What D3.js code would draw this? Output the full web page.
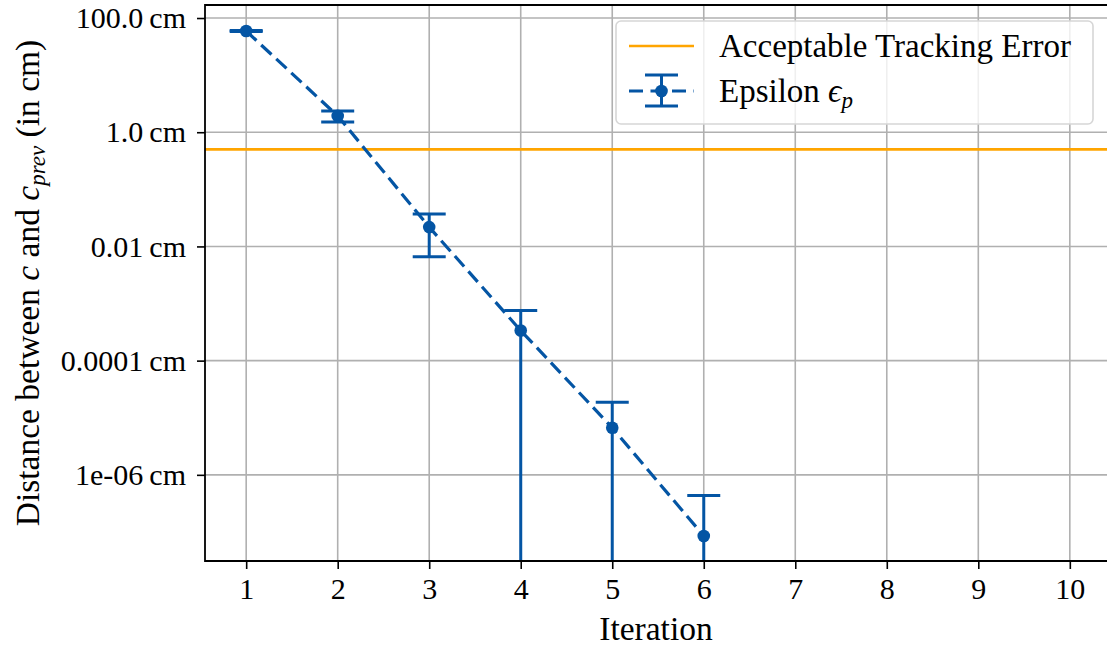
<!DOCTYPE html>
<html>
<head>
<meta charset="utf-8">
<script src="https://cdn.jsdelivr.net/npm/d3@7"></script>
<style>
  html, body { margin: 0; padding: 0; background: #fff; }
  svg { display: block; }
</style>
</head>
<body>
<svg id="chart" width="1107" height="651"></svg>
<script>
// data
const iterations = [1, 2, 3, 4, 5, 6];
const epsilon = [59.2, 1.93, 0.0218, 3.36e-4, 6.68e-6, 8.51e-8];
const epsilonErr = [1.0, 0.42, 0.0152, 4.18e-4, 1.19e-5, 3.49e-7];
const trackingThreshold = 0.5;

const xTicks = [1, 2, 3, 4, 5, 6, 7, 8, 9, 10];
const yTicks = [100, 1, 0.01, 1e-4, 1e-6];
const yTickLabels = ["100.0", "1.0", "0.01", "0.0001", "1e-06"];

const BLUE = "#0455a4";
const ORANGE = "#ffa500";
const GRID = "#b0b0b0";
const SERIF = '"Liberation Serif", "Times New Roman", serif';
const TICK_SIZE = 30;
const LABEL_SIZE = 33.5;
const LEGEND_SIZE = 33;

const plot = { left: 205, top: 5, right: 1111, bottom: 561 };

const svg = d3.select("#chart");

const x = d3.scaleLinear().domain([0.55, 10.45]).range([plot.left, plot.right]);
const y = d3.scaleLog()
    .domain([Math.pow(10, -7.509), Math.pow(10, 2.228)])
    .range([plot.bottom, plot.top]);

svg.append("defs").append("clipPath")
    .attr("id", "plot-clip")
    .append("rect")
    .attr("x", plot.left)
    .attr("y", plot.top)
    .attr("width", plot.right - plot.left)
    .attr("height", plot.bottom - plot.top);

// grid
const grid = svg.append("g").attr("class", "grid");
grid.selectAll(".vgrid")
    .data(xTicks)
    .enter().append("line")
    .attr("x1", d => x(d)).attr("x2", d => x(d))
    .attr("y1", plot.top).attr("y2", plot.bottom)
    .attr("stroke", GRID).attr("stroke-width", 1.6);
grid.selectAll(".hgrid")
    .data(yTicks)
    .enter().append("line")
    .attr("x1", plot.left).attr("x2", plot.right)
    .attr("y1", d => y(d)).attr("y2", d => y(d))
    .attr("stroke", GRID).attr("stroke-width", 1.6);

const marks = svg.append("g").attr("clip-path", "url(#plot-clip)");

// acceptable tracking error (horizontal line across the axes)
marks.append("line")
    .attr("x1", plot.left).attr("x2", plot.right)
    .attr("y1", y(trackingThreshold)).attr("y2", y(trackingThreshold))
    .attr("stroke", ORANGE).attr("stroke-width", 2.6);

const points = iterations.map((it, i) => ({ it, v: epsilon[i], err: epsilonErr[i] }));
const CAP = 16.5;

// error bars; lower end below zero runs off the bottom of a log axis
const bars = marks.selectAll(".errbar")
    .data(points)
    .enter().append("g")
    .attr("class", "errbar")
    .attr("stroke", BLUE)
    .attr("stroke-width", 3);

bars.append("line")
    .attr("x1", d => x(d.it)).attr("x2", d => x(d.it))
    .attr("y1", d => y(d.v + d.err))
    .attr("y2", d => d.v - d.err > 0 ? y(d.v - d.err) : plot.bottom + 10);

bars.append("line")
    .attr("x1", d => x(d.it) - CAP).attr("x2", d => x(d.it) + CAP)
    .attr("y1", d => y(d.v + d.err)).attr("y2", d => y(d.v + d.err));

bars.filter(d => d.v - d.err > 0).append("line")
    .attr("x1", d => x(d.it) - CAP).attr("x2", d => x(d.it) + CAP)
    .attr("y1", d => y(d.v - d.err)).attr("y2", d => y(d.v - d.err));

// dashed line through the points
marks.append("path")
    .datum(points)
    .attr("fill", "none")
    .attr("stroke", BLUE)
    .attr("stroke-width", 3.2)
    .attr("stroke-dasharray", "14,6.5")
    .attr("d", d3.line().x(d => x(d.it)).y(d => y(d.v)));

marks.selectAll(".pt")
    .data(points)
    .enter().append("circle")
    .attr("class", "pt")
    .attr("cx", d => x(d.it))
    .attr("cy", d => y(d.v))
    .attr("r", 6.3)
    .attr("fill", BLUE);

// axes
const xAxis = svg.append("g")
    .attr("transform", `translate(0,${plot.bottom})`)
    .call(d3.axisBottom(x).tickValues(xTicks).tickSize(8).tickPadding(9));
const yAxis = svg.append("g")
    .attr("transform", `translate(${plot.left},0)`)
    .call(d3.axisLeft(y).tickValues(yTicks).tickSize(8).tickPadding(11)
        .tickFormat((d, i) => yTickLabels[i] + "\u2009cm"));

[xAxis, yAxis].forEach(ax => {
    ax.select(".domain").remove();
    ax.selectAll(".tick line").attr("stroke", "#000").attr("stroke-width", 1.6);
    ax.selectAll(".tick text")
        .style("font-family", SERIF)
        .style("font-size", TICK_SIZE + "px")
        .attr("fill", "#000");
});

// spines (right spine sits just off the canvas)
svg.append("path")
    .attr("fill", "none")
    .attr("stroke", "#000")
    .attr("stroke-width", 1.8)
    .attr("d", `M${plot.right},${plot.top}H${plot.left}V${plot.bottom}H${plot.right}V${plot.top}`);

// axis labels
svg.append("text")
    .attr("x", (plot.left + plot.right) / 2 - 2)
    .attr("y", 640)
    .attr("text-anchor", "middle")
    .style("font-family", SERIF)
    .style("font-size", LABEL_SIZE + "px")
    .text("Iteration");

const yLabel = svg.append("text")
    .attr("transform", `translate(39,${(plot.top + plot.bottom) / 2}) rotate(-90)`)
    .attr("text-anchor", "middle")
    .style("font-family", SERIF)
    .style("font-size", LABEL_SIZE + "px");
yLabel.append("tspan").text("Distance between ");
yLabel.append("tspan").style("font-style", "italic").text("c");
yLabel.append("tspan").text(" and ");
yLabel.append("tspan").style("font-style", "italic").text("c");
yLabel.append("tspan").style("font-style", "italic").style("font-size", Math.round(LABEL_SIZE * 0.7) + "px").attr("dy", 6).text("prev");
yLabel.append("tspan").attr("dy", -6).text(" (in cm)");

// legend
const legend = svg.append("g").attr("class", "legend");
legend.append("rect")
    .attr("x", 616).attr("y", 21)
    .attr("width", 477).attr("height", 103)
    .attr("rx", 5)
    .attr("fill", "#fff").attr("fill-opacity", 0.8)
    .attr("stroke", "#d6d6d6").attr("stroke-width", 1.6);

const handleX = [629, 694];
const rowY = [46, 91];

legend.append("line")
    .attr("x1", handleX[0]).attr("x2", handleX[1])
    .attr("y1", rowY[0]).attr("y2", rowY[0])
    .attr("stroke", ORANGE).attr("stroke-width", 2.6);

const hx = (handleX[0] + handleX[1]) / 2;
legend.append("line")
    .attr("x1", handleX[0]).attr("x2", handleX[1])
    .attr("y1", rowY[1]).attr("y2", rowY[1])
    .attr("stroke", BLUE).attr("stroke-width", 3.2)
    .attr("stroke-dasharray", "14,7.5");
legend.append("line")
    .attr("x1", hx).attr("x2", hx)
    .attr("y1", rowY[1] - 16).attr("y2", rowY[1] + 15)
    .attr("stroke", BLUE).attr("stroke-width", 3);
[rowY[1] - 16, rowY[1] + 15].forEach(cy => {
    legend.append("line")
        .attr("x1", hx - CAP).attr("x2", hx + CAP)
        .attr("y1", cy).attr("y2", cy)
        .attr("stroke", BLUE).attr("stroke-width", 3);
});
legend.append("circle").attr("cx", hx).attr("cy", rowY[1]).attr("r", 6.3).attr("fill", BLUE);

legend.append("text")
    .attr("x", 719).attr("y", rowY[0] + 11)
    .style("font-family", SERIF)
    .style("font-size", LEGEND_SIZE + "px")
    .text("Acceptable Tracking Error");
const epsLabel = legend.append("text")
    .attr("x", 719).attr("y", rowY[1] + 11)
    .style("font-family", SERIF)
    .style("font-size", LEGEND_SIZE + "px");
epsLabel.append("tspan").text("Epsilon ");
epsLabel.append("tspan").style("font-style", "italic").text("\u03f5");
epsLabel.append("tspan").style("font-style", "italic").style("font-size", Math.round(LEGEND_SIZE * 0.7) + "px").attr("dy", 6).text("p");
</script>
</body>
</html>
